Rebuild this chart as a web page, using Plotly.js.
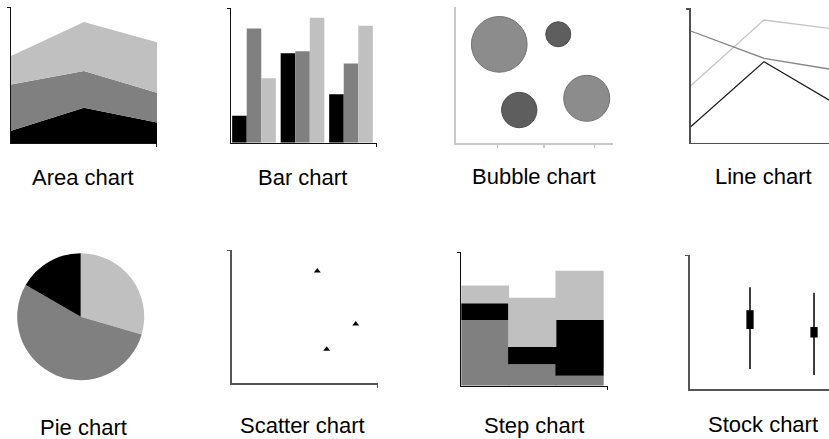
<!DOCTYPE html>
<html>
<head>
<meta charset="utf-8">
<script src="https://cdn.plot.ly/plotly-3.0.1.min.js"></script>
<style>html,body{margin:0;padding:0;background:#fff;}#chart{width:829px;height:439px;}</style>
</head>
<body>
<div id="chart"></div>
<script>
// ---- data ----
const titles = ['Area chart','Bar chart','Bubble chart','Line chart','Pie chart','Scatter chart','Step chart','Stock chart'];

const areaX = [0, 1, 2];
const areaBlack = [9, 26, 15];
const areaDark = [34, 27, 22];
const areaLight = [21, 36, 37];

const barGroups = [1, 2, 3];
const barBlack = [20, 66.5, 36];
const barDark = [85, 68, 59];
const barLight = [48, 93, 87];

const bubbleX = [27.7, 65.2, 40.4, 83.3];
const bubbleY = [72.6, 80.0, 24.4, 33.0];
const bubbleSize = [55.7, 25, 35.3, 46];
const bubbleTicks = [26.7, 56.1, 88.1];

const lineX = [0, 1, 2];
const lineLight = [42.4, 91.3, 84.3];
const lineMid = [83.1, 62.8, 53.8];
const lineBlack = [11.9, 60.3, 28.1];

const pieLabels = ['A', 'B', 'C'];
const pieValues = [29.5, 53.8, 16.7];

const scatterX = [58.4, 84.6, 64.8];
const scatterY = [84.2, 44.5, 25.5];

const stepX = [0, 1, 2];
const stepDark = [49.3, 16, 7.5];
const stepBlack = [12.5, 13, 41.8];
const stepLight = [13.3, 37, 36.8];

const stockX = [1, 2];
const stockOpen = [45.3, 45.7];
const stockHigh = [75.9, 71.9];
const stockLow = [14.9, 10.4];
const stockClose = [58.2, 39.0];

// ---- layout helpers ----
const W = 829, H = 439;
const xd = (a, b) => [a / W, Math.min(1, b / W)];
const yd = (t, b) => [(H - b) / H, (H - t) / H];
const BLACK = '#000000', DARK = '#808080', LIGHT = '#c0c0c0';

function axis(domain, range, anchor, color, width, tickvals) {
  const o = {
    domain: domain, range: range, anchor: anchor,
    showgrid: false, zeroline: false, showline: true,
    linecolor: color, linewidth: width,
    showticklabels: false, fixedrange: true
  };
  if (tickvals && tickvals.length) {
    o.tickmode = 'array'; o.tickvals = tickvals;
    o.ticks = 'outside'; o.ticklen = 3; o.tickwidth = width; o.tickcolor = color;
  } else {
    o.ticks = '';
  }
  return o;
}

const cum = (a, b) => a.map((v, i) => v + b[i]);
const stepBase2 = stepDark.slice();
const stepBase3 = cum(stepDark, stepBlack);
const STEP_W = 1.02, STEP_OFF = -0.51;

const traces = [
  // Area
  {type: 'scatter', x: areaX, y: areaBlack, stackgroup: 'area', mode: 'none', fillcolor: BLACK, xaxis: 'x', yaxis: 'y'},
  {type: 'scatter', x: areaX, y: areaDark, stackgroup: 'area', mode: 'none', fillcolor: DARK, xaxis: 'x', yaxis: 'y'},
  {type: 'scatter', x: areaX, y: areaLight, stackgroup: 'area', mode: 'none', fillcolor: LIGHT, xaxis: 'x', yaxis: 'y'},
  // Bar
  {type: 'bar', x: barGroups, y: barBlack, marker: {color: BLACK, line: {width: 0}}, xaxis: 'x2', yaxis: 'y2'},
  {type: 'bar', x: barGroups, y: barDark, marker: {color: DARK, line: {width: 0}}, xaxis: 'x2', yaxis: 'y2'},
  {type: 'bar', x: barGroups, y: barLight, marker: {color: LIGHT, line: {width: 0}}, xaxis: 'x2', yaxis: 'y2'},
  // Bubble
  {type: 'scatter', mode: 'markers', x: bubbleX, y: bubbleY, xaxis: 'x3', yaxis: 'y3',
   marker: {size: bubbleSize, sizemode: 'diameter', opacity: 1,
            color: ['#8c8c8c', '#5e5e5e', '#5e5e5e', '#8c8c8c'],
            line: {color: ['#727272', '#4c4c4c', '#4c4c4c', '#727272'], width: 1}}},
  // Line
  {type: 'scatter', mode: 'lines', x: lineX, y: lineLight, line: {color: '#c4c4c4', width: 1.3}, xaxis: 'x4', yaxis: 'y4'},
  {type: 'scatter', mode: 'lines', x: lineX, y: lineMid, line: {color: '#858585', width: 1.3}, xaxis: 'x4', yaxis: 'y4'},
  {type: 'scatter', mode: 'lines', x: lineX, y: lineBlack, line: {color: '#1a1a1a', width: 1.2}, xaxis: 'x4', yaxis: 'y4'},
  // Pie
  {type: 'pie', labels: pieLabels, values: pieValues, sort: false, direction: 'clockwise', rotation: 0,
   textinfo: 'none', hoverinfo: 'label+value',
   marker: {colors: [LIGHT, DARK, BLACK], line: {width: 0}},
   domain: {x: xd(17.2, 144.2), y: yd(253.2, 380.2)}},
  // Scatter
  {type: 'scatter', mode: 'markers', x: scatterX, y: scatterY, xaxis: 'x6', yaxis: 'y6',
   marker: {symbol: 'triangle-up', size: 6, color: BLACK}},
  // Step
  {type: 'bar', x: stepX, y: stepDark, base: 0, width: STEP_W, offset: STEP_OFF, marker: {color: DARK, line: {width: 0}}, xaxis: 'x7', yaxis: 'y7'},
  {type: 'bar', x: stepX, y: stepBlack, base: stepBase2, width: STEP_W, offset: STEP_OFF, marker: {color: BLACK, line: {width: 0}}, xaxis: 'x7', yaxis: 'y7'},
  {type: 'bar', x: stepX, y: stepLight, base: stepBase3, width: STEP_W, offset: STEP_OFF, marker: {color: LIGHT, line: {width: 0}}, xaxis: 'x7', yaxis: 'y7'},
  // Stock
  {type: 'candlestick', x: stockX, open: stockOpen, high: stockHigh, low: stockLow, close: stockClose,
   whiskerwidth: 0, xaxis: 'x8', yaxis: 'y8',
   increasing: {line: {color: BLACK, width: 1.5}, fillcolor: BLACK},
   decreasing: {line: {color: BLACK, width: 1.5}, fillcolor: BLACK}}
];

const titlePos = [[83, 177.5], [302, 177.5], [534, 176.5], [763, 176], [83, 427], [302.5, 425.8], [534, 425], [763, 424.5]];
const annotations = titles.map((t, i) => ({
  text: t, xref: 'paper', yref: 'paper', x: titlePos[i][0] / W, y: (H - titlePos[i][1]) / H,
  xanchor: 'center', yanchor: 'middle', showarrow: false,
  font: {family: 'Liberation Sans, Arial, Helvetica, sans-serif', size: 22, color: '#000'}
}));

const layout = {
  width: W, height: H, margin: {l: 0, r: 0, t: 0, b: 0},
  paper_bgcolor: '#fff', plot_bgcolor: 'rgba(0,0,0,0)',
  showlegend: false, barmode: 'group', bargap: 0.1, bargroupgap: 0,
  boxgap: 0.91, boxgroupgap: 0,
  annotations: annotations,
  xaxis: axis(xd(11, 157), [0, 2], 'y', '#111', 1, [1.995]),
  yaxis: axis(yd(7, 143), [0, 100], 'x', '#111', 1, [99.5]),
  xaxis2: axis(xd(231, 377), [0.526, 3.536], 'y2', '#111', 1, [3.53]),
  yaxis2: axis(yd(8.3, 142.7), [0, 100], 'x2', '#111', 1, [99.5]),
  xaxis3: Object.assign(axis(xd(455.7, 613), [0, 100], 'y3', '#c8c8c8', 1.3, bubbleTicks), {ticklen: 3}),
  yaxis3: axis(yd(7, 143.3), [0, 100], 'x3', '#c8c8c8', 1.3, []),
  xaxis4: axis(xd(690.7, 829), [0, 1.887], 'y4', '#505050', 1.6, []),
  yaxis4: axis(yd(8.3, 142.7), [0, 100], 'x4', '#505050', 1.6, [99.5]),
  xaxis6: axis(xd(231.7, 378.3), [0, 100], 'y6', '#555', 1.6, [99.5]),
  yaxis6: axis(yd(250, 383.3), [0, 100], 'x6', '#555', 1.6, [99.5]),
  xaxis7: axis(xd(461.3, 607.7), [-0.5, 2.595], 'y7', '#111', 1, [2.59]),
  yaxis7: axis(yd(252.3, 385.7), [0, 100], 'x7', '#111', 1, [99.5]),
  xaxis8: Object.assign(axis(xd(690, 829), [0.0625, 2.234], 'y8', '#555', 1.6, []), {rangeslider: {visible: false}}),
  yaxis8: axis(yd(255, 389), [0, 100], 'x8', '#555', 1.6, [99.5])
};

Plotly.newPlot('chart', traces, layout, {displayModeBar: false, staticPlot: true});
</script>
</body>
</html>
